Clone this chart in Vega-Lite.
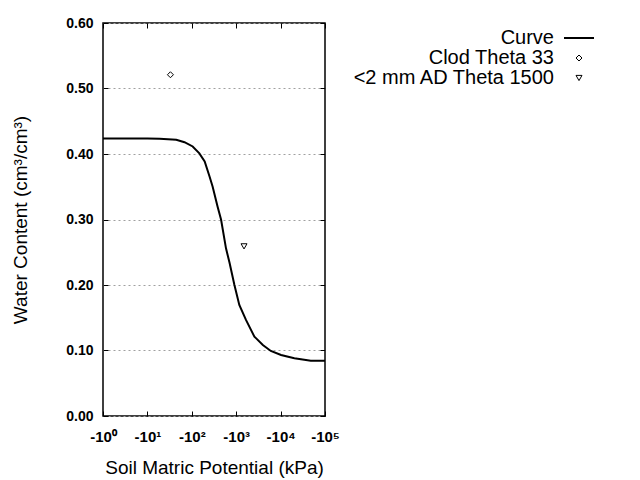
{
  "$schema": "https://vega.github.io/schema/vega-lite/v6.json",
  "width": 222,
  "height": 393,
  "autosize": {"type": "none"},
  "padding": {"left": 103, "top": 23, "right": 315, "bottom": 64},
  "background": "white",
  "config": {
    "font": "Liberation Sans",
    "view": {"stroke": "black", "strokeWidth": 1.5},
    "axis": {
      "domain": false,
      "tickColor": "black",
      "tickSize": -5,
      "tickWidth": 1,
      "labelColor": "black",
      "labelFont": "Liberation Sans",
      "labelFontSize": 14,
      "labelFontWeight": "bold",
      "titleColor": "black",
      "titleFont": "Liberation Sans",
      "titleFontSize": 19,
      "titleFontWeight": "normal"
    }
  },
  "datasets": {
    "curve": [
      {"kPa": 1, "theta": 0.4235},
      {"kPa": 10, "theta": 0.4235},
      {"kPa": 18.8, "theta": 0.4232},
      {"kPa": 44.7, "theta": 0.4217},
      {"kPa": 68.5, "theta": 0.418},
      {"kPa": 104.7, "theta": 0.4115},
      {"kPa": 148, "theta": 0.401},
      {"kPa": 195, "theta": 0.3886},
      {"kPa": 251, "theta": 0.3656},
      {"kPa": 295, "theta": 0.35},
      {"kPa": 380, "theta": 0.32},
      {"kPa": 457, "theta": 0.2995},
      {"kPa": 589, "theta": 0.256},
      {"kPa": 708, "theta": 0.234},
      {"kPa": 912, "theta": 0.2},
      {"kPa": 1175, "theta": 0.1696},
      {"kPa": 1660, "theta": 0.1467},
      {"kPa": 2570, "theta": 0.1212},
      {"kPa": 3981, "theta": 0.1085},
      {"kPa": 6026, "theta": 0.0993},
      {"kPa": 10233, "theta": 0.0932},
      {"kPa": 20417, "theta": 0.0882},
      {"kPa": 47863, "theta": 0.0845},
      {"kPa": 100000, "theta": 0.0845}
    ],
    "points": [
      {"kPa": 33, "theta": 0.521, "series": "Clod Theta 33"},
      {"kPa": 1500, "theta": 0.259, "series": "<2 mm AD Theta 1500"}
    ]
  },
  "layer": [
    {
      "data": {"name": "curve"},
      "mark": {"type": "line", "color": "black", "strokeWidth": 2},
      "encoding": {
        "x": {
          "field": "kPa", "type": "quantitative",
          "scale": {"type": "log", "domain": [1, 100000], "nice": false},
          "axis": {
            "orient": "bottom",
            "values": [1, 10, 100, 1000, 10000, 100000],
            "labelExpr": "datum.value == 1 ? '-10⁰' : datum.value == 10 ? '-10¹' : datum.value == 100 ? '-10²' : datum.value == 1000 ? '-10³' : datum.value == 10000 ? '-10⁴' : '-10⁵'",
            "labelPadding": 18,
            "labelFontSize": 15,
            "labelFlush": false,
            "title": "Soil Matric Potential (kPa)",
            "titlePadding": 14,
            "grid": false
          }
        },
        "y": {
          "field": "theta", "type": "quantitative",
          "scale": {"domain": [0, 0.6], "nice": false, "zero": false},
          "axis": {
            "orient": "left",
            "values": [0, 0.1, 0.2, 0.3, 0.4, 0.5, 0.6],
            "format": ".2f",
            "labelPadding": 15,
            "title": "Water Content (cm³/cm³)",
            "titlePadding": 35,
            "grid": true,
            "gridColor": "#a0a0a0",
            "gridDash": [2, 3],
            "gridWidth": 1
          }
        }
      }
    },
    {
      "data": {"name": "points"},
      "mark": {"type": "point", "filled": false, "color": "black", "opacity": 1},
      "encoding": {
        "x": {
          "field": "kPa", "type": "quantitative",
          "scale": {"type": "log", "domain": [1, 100000], "nice": false},
          "axis": {"orient": "top", "values": [1, 10, 100, 1000, 10000, 100000], "labels": false, "title": null, "grid": false}
        },
        "y": {
          "field": "theta", "type": "quantitative",
          "scale": {"domain": [0, 0.6], "nice": false, "zero": false},
          "axis": {"orient": "right", "values": [0, 0.1, 0.2, 0.3, 0.4, 0.5, 0.6], "labels": false, "title": null, "grid": false}
        },
        "shape": {
          "field": "series", "type": "nominal",
          "scale": {"domain": ["Curve", "Clod Theta 33", "<2 mm AD Theta 1500"], "range": ["stroke", "diamond", "triangle-down"]},
          "legend": {
            "orient": "none",
            "legendX": 460,
            "legendY": -1,
            "title": null,
            "labelAlign": "right",
            "labelOffset": -41,
            "labelFontSize": 20,
            "labelLimit": 400,
            "labelFont": "Liberation Sans",
            "labelColor": "black",
            "rowPadding": 0,
            "symbolStrokeColor": "black",
            "symbolFillColor": "transparent"
          }
        },
        "size": {
          "field": "series", "type": "nominal",
          "scale": {"type": "ordinal", "domain": ["Curve", "Clod Theta 33", "<2 mm AD Theta 1500"], "range": [900, 36, 36]}
        },
        "strokeWidth": {
          "field": "series", "type": "nominal",
          "scale": {"type": "ordinal", "domain": ["Curve", "Clod Theta 33", "<2 mm AD Theta 1500"], "range": [2, 1, 1]}
        }
      }
    }
  ],
  "resolve": {"axis": {"x": "independent", "y": "independent"}}
}
